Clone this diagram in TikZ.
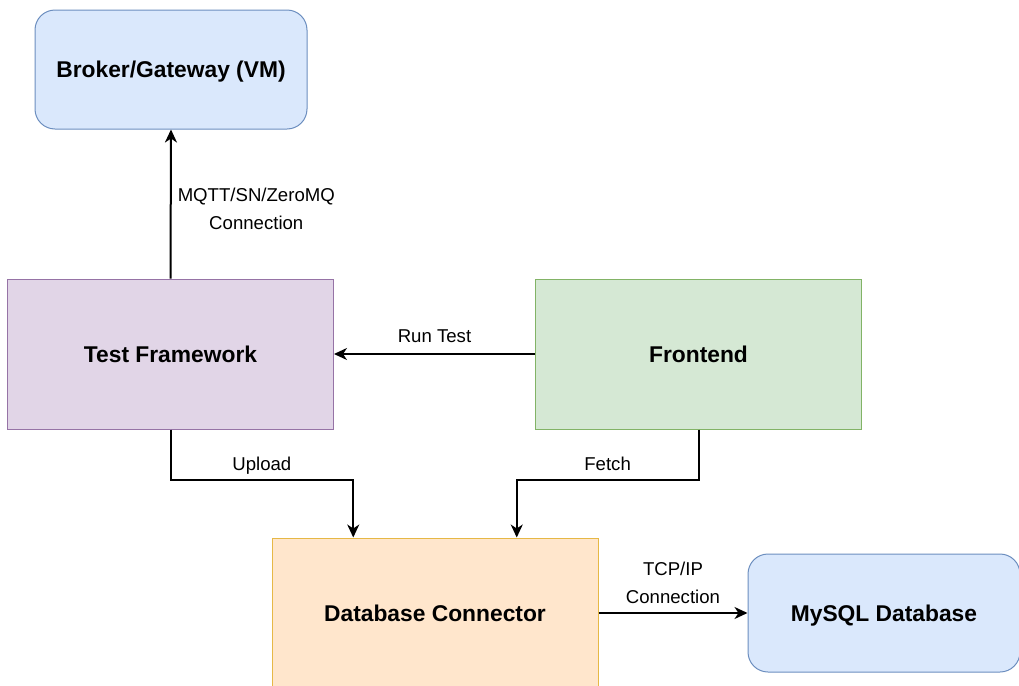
\documentclass[tikz,border=0pt]{standalone}
\usepackage{fontspec}
\setmainfont{Liberation Sans}
\usetikzlibrary{arrows.meta,positioning,calc}

\begin{document}
\begin{tikzpicture}[x=0.5pt,y=-0.5pt,
    box/.style={draw,line width=0.5pt,minimum width=163pt,minimum height=75pt,
      text depth=0pt,font=\fontsize{11.4}{13}\selectfont\bfseries},
    conn/.style={line width=1pt,-{Stealth[length=6.5pt,width=6pt,inset=2pt]}},
    lbl/.style={font=\fontsize{9.3}{14}\selectfont,align=center,inner sep=1pt}]
    \useasboundingbox (0,0) rectangle (1019,686);
    \node[box,minimum width=136pt,minimum height=59.5pt,rounded corners=10pt,
      fill={rgb,255:red,218;green,232;blue,252},draw={rgb,255:red,108;green,142;blue,191}]
      (brk) at (171,69.5) {Broker/Gateway (VM)};
    \node[box,fill={rgb,255:red,225;green,213;blue,231},draw={rgb,255:red,150;green,115;blue,166}]
      (tf) at (170.5,354) {Test Framework};
    \node[box,fill={rgb,255:red,213;green,232;blue,212},draw={rgb,255:red,130;green,179;blue,102}]
      (fe) at (698.5,354) {Frontend};
    \node[box,fill={rgb,255:red,255;green,230;blue,204},draw={rgb,255:red,230;green,184;blue,70}]
      (dbc) at (435,613) {Database Connector};
    \node[box,minimum width=136pt,minimum height=59pt,rounded corners=10pt,
      fill={rgb,255:red,218;green,232;blue,252},draw={rgb,255:red,108;green,142;blue,191}]
      (sql) at (884,613) {MySQL Database};
    % connections
    \draw[conn] (tf.north) -- (brk.south)
      node[lbl,midway,right=2pt,yshift=-2.5pt] {MQTT/SN/ZeroMQ\\Connection};
    \draw[conn] (fe.west) -- (tf.east) node[lbl,midway,above=4pt] {Run Test};
    \draw[conn] (tf.south) -- ++(0,50) -| ($(dbc.north)!.5!(dbc.north west)$)
      node[lbl,pos=.25,above=3pt,text depth=0pt] {Upload};
    \draw[conn] (fe.south) -- ++(0,50) -| ($(dbc.north)!.5!(dbc.north east)$)
      node[lbl,pos=.25,above=3pt,text depth=0pt] {Fetch};
    \draw[conn] (dbc.east) -- (sql.west)
      node[lbl,midway,above=3pt] {TCP/IP\\Connection};
\end{tikzpicture}
\end{document}
